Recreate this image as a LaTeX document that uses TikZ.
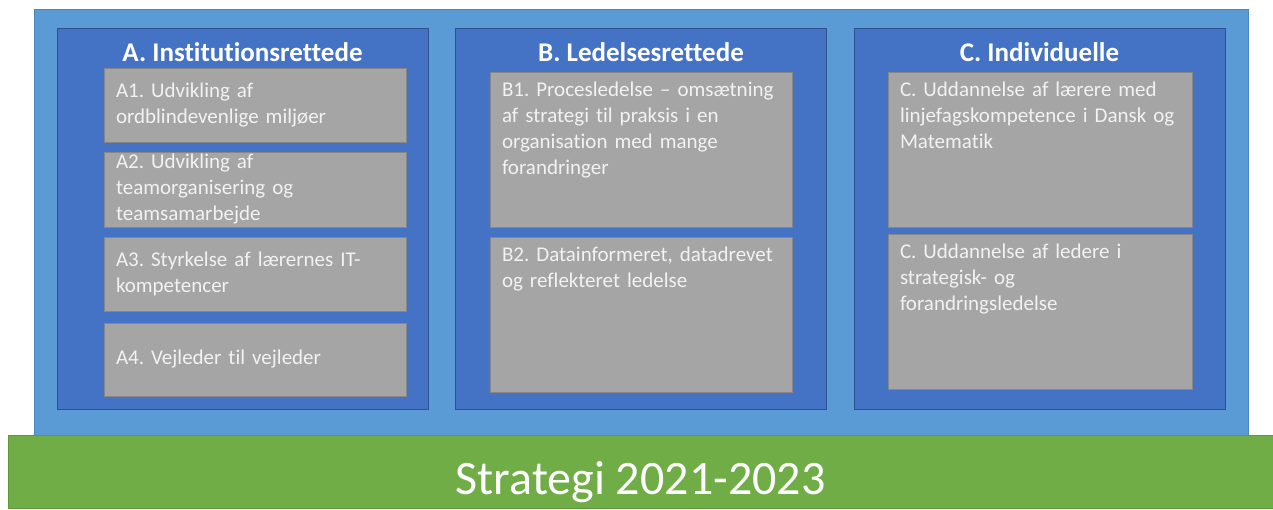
\documentclass[tikz,border=0pt]{standalone}
\usepackage{fontspec}
\setmainfont{Carlito}[Ligatures={TeX,NoCommon}]
\usepackage{xcolor}
\definecolor{lyseblaa}{HTML}{5B9BD5}
\definecolor{lyseblaakant}{HTML}{4A86BE}
\definecolor{moerkblaa}{HTML}{4472C4}
\definecolor{moerkblaakant}{HTML}{2F528F}
\definecolor{graa}{HTML}{A5A5A5}
\definecolor{graakant}{HTML}{878787}
\definecolor{groen}{HTML}{70AD47}
\definecolor{groenkant}{HTML}{5E9A38}
\definecolor{tekstgraa}{HTML}{F2F2F2}
\frenchspacing
\tikzstyle{ramme}=[rectangle, draw=lyseblaakant, fill=lyseblaa, inner sep=0pt]
\tikzstyle{kolonne}=[rectangle, draw=moerkblaakant, fill=moerkblaa, minimum width=371pt, minimum height=381pt, inner sep=0pt]
\tikzstyle{overskrift}=[anchor=base, text=white, font=\fontsize{27}{32}\selectfont\bfseries]
\tikzstyle{boks}=[rectangle, draw=graakant, fill=graa, text width=278pt, inner xsep=12pt, inner ysep=0pt, align=left, text=tekstgraa, font=\fontsize{21}{26}\selectfont]
\tikzstyle{tekst}=[anchor=base west, text width=280pt, inner sep=0pt, align=left, text=tekstgraa, font=\fontsize{21}{26}\selectfont]
\newcommand{\boks}{\node[boks]}

\begin{document}
\begin{tikzpicture}[x=1pt,y=-1pt]
\useasboundingbox (0,0) rectangle (1273,509);
\node[ramme, minimum width=1214pt, minimum height=426pt] (baggrund) at (641,222) {};
\foreach \n/\x/\t in {a/242.5/A. Institutionsrettede, b/641/B. Ledelsesrettede, c/1039.5/C. Individuelle}{
	\node[kolonne] (\n) at (\x,219) {};
	\node[overskrift] (\n titel) at (\x,61) {\t};
	}
% A - tekst centreret i boksene
\boks[minimum height=74pt] (a1) at (255,105) {A1. Udvikling af\\ordblindevenlige miljøer};
\boks[minimum height=75pt] (a2) at (255,189.5) {A2. Udvikling af\\teamorganisering og\\teamsamarbejde};
\boks[minimum height=74pt] (a3) at (255,274) {A3. Styrkelse af lærernes IT-\\kompetencer};
\boks[minimum height=73pt] (a4) at (255,359.5) {A4. Vejleder til vejleder};
% B og C - tekst i toppen
\boks[minimum height=155pt] (b1) at (641,149.5) {};
\boks[minimum height=155pt] (b2) at (641,314.5) {};
\boks[minimum height=155pt, text width=280pt] (c1) at (1040,149.5) {};
\boks[minimum height=155pt, text width=280pt] (c2) at (1040,311.5) {};
\node[tekst] (b1t) at ([shift={(12pt,-25pt)}]b1.north west) {B1. Procesledelse – omsætning\\af strategi til praksis i en\\organisation med mange\\forandringer};
\node[tekst] (b2t) at ([shift={(12pt,-25pt)}]b2.north west) {B2. Datainformeret, datadrevet\\og reflekteret ledelse};
\node[tekst] (c1t) at ([shift={(12pt,-25pt)}]c1.north west) {C. Uddannelse af lærere med\\linjefagskompetence i Dansk og\\Matematik};
\node[tekst] (c2t) at ([shift={(12pt,-25pt)}]c2.north west) {C. Uddannelse af ledere i\\strategisk- og\\forandringsledelse};
\node[rectangle, draw=groenkant, fill=groen, minimum width=1265pt, minimum height=73pt, inner sep=0pt] (bund) at (640.5,471.5) {};
\node[anchor=base, text=white, font=\fontsize{48}{56}\selectfont] (strategi) at (640.5,494) {Strategi 2021-2023};
\end{tikzpicture}
\end{document}
